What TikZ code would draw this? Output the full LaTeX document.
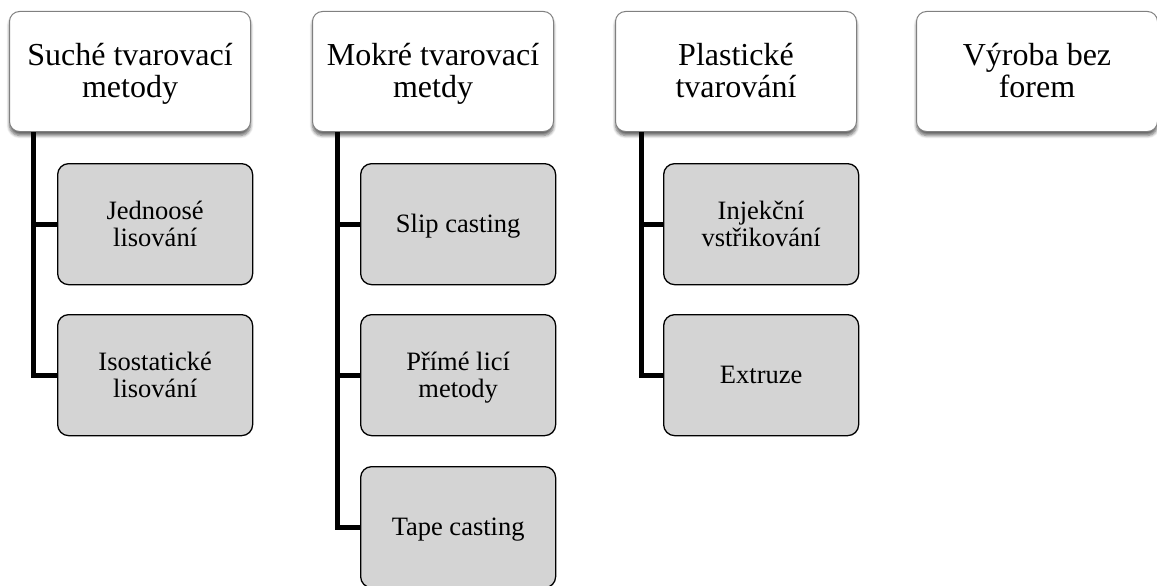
\documentclass[tikz,border=0pt]{standalone}
\usepackage{fontspec}
\setmainfont{Liberation Serif}
\usetikzlibrary{shadows,shadows.blur}
\newcommand{\lowtext}[2]{\raisebox{-#1}[\height][\depth]{\begin{tabular}{@{}c@{}}#2\end{tabular}}}
\begin{document}
\begin{tikzpicture}[x=1pt,y=-1pt,
  topbox/.style={draw=black!50, line width=1pt, fill=white, rounded corners=10pt,
    minimum width=241pt, minimum height=120pt, anchor=north west, align=center,
    inner sep=0pt, font=\fontsize{32}{32}\selectfont,
    blur shadow={shadow xshift=0pt, shadow yshift=-4pt, shadow blur steps=6, shadow blur radius=3pt, shadow opacity=60}},
  subbox/.style={draw=black, line width=1.3pt, fill=black!17, rounded corners=11pt,
    minimum width=195pt, minimum height=121pt, anchor=north west, align=center,
    inner sep=0pt, font=\fontsize{26.5}{27}\selectfont},
  conn/.style={line width=5pt, draw=black}]
\useasboundingbox (0,0) rectangle (1157,586);
% top level
\node[topbox] (t1) at (9,11) {\lowtext{4pt}{Suché tvarovací\\metody}};
\node[topbox] (t2) at (312,11) {\lowtext{4pt}{Mokré tvarovací\\metdy}};
\node[topbox] (t3) at (615,11) {\lowtext{4pt}{Plastické\\tvarování}};
\node[topbox] (t4) at (916,11) {\lowtext{4pt}{Výroba bez\\forem}};
% children
\node[subbox] (c11) at (57,163) {\lowtext{3pt}{Jednoosé\\lisování}};
\node[subbox] (c12) at (57,314) {\lowtext{3pt}{Isostatické\\lisování}};
\node[subbox] (c21) at (360,163) {\lowtext{3pt}{Slip casting}};
\node[subbox] (c22) at (360,314) {\lowtext{3pt}{Přímé licí\\metody}};
\node[subbox] (c23) at (360,466) {\lowtext{3pt}{Tape casting}};
\node[subbox] (c31) at (663,163) {\lowtext{3pt}{Injekční\\vstřikování}};
\node[subbox] (c32) at (663,314) {\lowtext{3pt}{Extruze}};
% connectors
\draw[conn] ([xshift=24pt]t1.south west) |- (c11.west);
\draw[conn] ([xshift=24pt]t1.south west) |- (c12.west);
\draw[conn] ([xshift=25pt]t2.south west) |- (c21.west);
\draw[conn] ([xshift=25pt]t2.south west) |- (c22.west);
\draw[conn] ([xshift=25pt]t2.south west) |- (c23.west);
\draw[conn] ([xshift=26pt]t3.south west) |- (c31.west);
\draw[conn] ([xshift=26pt]t3.south west) |- (c32.west);
\end{tikzpicture}
\end{document}
